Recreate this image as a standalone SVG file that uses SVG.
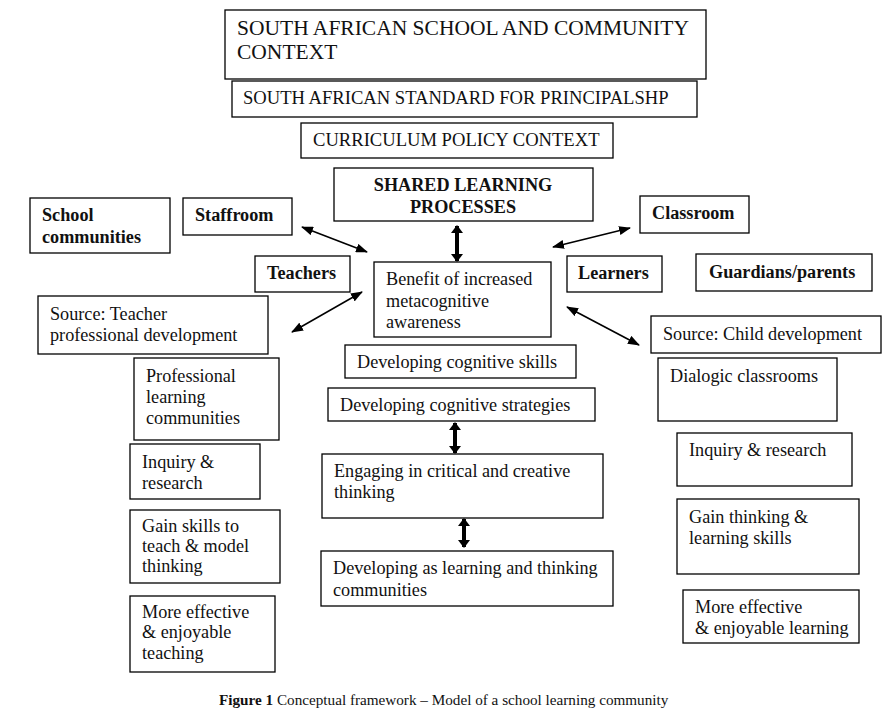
<svg xmlns="http://www.w3.org/2000/svg" width="895" height="725" viewBox="0 0 895 725">
<defs>
<style>
.box{fill:#fff;stroke:#000;stroke-width:1.3}
text{font-family:"Liberation Serif","Times New Roman",serif;fill:#111}
.r{font-size:18.2px}
.b{font-size:18.2px;font-weight:bold}
.t1{font-size:21.5px}
.t2{font-size:18.6px}
.thin{stroke:#000;stroke-width:1.6;fill:none;marker-start:url(#ah);marker-end:url(#ah)}
.thick{stroke:#000;stroke-width:4;fill:none;marker-start:url(#ahb);marker-end:url(#ahb)}
</style>
<marker id="ah" markerUnits="userSpaceOnUse" markerWidth="12" markerHeight="9" viewBox="0 0 12 9" refX="11" refY="4.5" orient="auto-start-reverse"><path d="M0,0 L12,4.5 L0,9 z" fill="#000"/></marker>
<marker id="ahb" markerUnits="userSpaceOnUse" markerWidth="8" markerHeight="12" viewBox="0 0 8 12" refX="7" refY="6" orient="auto-start-reverse"><path d="M0,0 L8,6 L0,12 z" fill="#000"/></marker>
</defs>
<rect width="895" height="725" fill="#fff"/>
<g id="context"><rect class="box" x="225" y="10" width="481" height="69"/><text class="t1" x="237" y="35">SOUTH AFRICAN SCHOOL AND COMMUNITY</text><text class="t1" x="237" y="59">CONTEXT</text></g>
<g id="standard"><rect class="box" x="232" y="81" width="465" height="36"/><text class="t2" x="243" y="104">SOUTH AFRICAN STANDARD FOR PRINCIPALSHP</text></g>
<g id="curriculum"><rect class="box" x="301" y="123" width="312" height="35"/><text class="t2" x="313" y="146">CURRICULUM POLICY CONTEXT</text></g>
<g id="shared"><rect class="box" x="334" y="168" width="259" height="53"/><text class="b" x="463" y="191" text-anchor="middle">SHARED LEARNING</text><text class="b" x="463" y="213" text-anchor="middle">PROCESSES</text></g>
<g id="school"><rect class="box" x="30" y="198" width="140" height="55"/><text class="b" x="42" y="221">School</text><text class="b" x="42" y="243">communities</text></g>
<g id="staffroom"><rect class="box" x="183" y="198" width="109" height="37"/><text class="b" x="195" y="221">Staffroom</text></g>
<g id="classroom"><rect class="box" x="640" y="196" width="109" height="37"/><text class="b" x="652" y="219">Classroom</text></g>
<g id="teachers"><rect class="box" x="255" y="256" width="95" height="36"/><text class="b" x="267" y="279">Teachers</text></g>
<g id="benefit"><rect class="box" x="374" y="262" width="177" height="75"/><text class="r" x="386" y="285">Benefit of increased</text><text class="r" x="386" y="307">metacognitive</text><text class="r" x="386" y="328">awareness</text></g>
<g id="learners"><rect class="box" x="567" y="256" width="95" height="36"/><text class="b" x="578" y="279">Learners</text></g>
<g id="guardians"><rect class="box" x="696" y="254" width="176" height="37"/><text class="b" x="709" y="278">Guardians/parents</text></g>
<g id="srcTeacher"><rect class="box" x="38" y="296" width="230" height="58"/><text class="r" x="50" y="320">Source: Teacher</text><text class="r" x="50" y="341">professional development</text></g>
<g id="srcChild"><rect class="box" x="651" y="316" width="230" height="37"/><text class="r" x="663" y="340">Source: Child development</text></g>
<g id="cogSkills"><rect class="box" x="345" y="345" width="231" height="33"/><text class="r" x="357" y="368">Developing cognitive skills</text></g>
<g id="plc"><rect class="box" x="134" y="358" width="145" height="82"/><text class="r" x="146" y="382">Professional</text><text class="r" x="146" y="403">learning</text><text class="r" x="146" y="424">communities</text></g>
<g id="dialogic"><rect class="box" x="658" y="358" width="179" height="63"/><text class="r" x="670" y="382">Dialogic classrooms</text></g>
<g id="cogStrat"><rect class="box" x="328" y="388" width="267" height="33"/><text class="r" x="340" y="411">Developing cognitive strategies</text></g>
<g id="inquiryL"><rect class="box" x="130" y="444" width="130" height="55"/><text class="r" x="142" y="468">Inquiry &amp;</text><text class="r" x="142" y="489">research</text></g>
<g id="inquiryR"><rect class="box" x="677" y="433" width="175" height="53"/><text class="r" x="689" y="456">Inquiry &amp; research</text></g>
<g id="engaging"><rect class="box" x="322" y="454" width="281" height="64"/><text class="r" x="334" y="477">Engaging in critical and creative</text><text class="r" x="334" y="498">thinking</text></g>
<g id="gainTeach"><rect class="box" x="130" y="510" width="150" height="73"/><text class="r" x="142" y="532">Gain skills to</text><text class="r" x="142" y="552">teach &amp; model</text><text class="r" x="142" y="572">thinking</text></g>
<g id="gainLearn"><rect class="box" x="677" y="499" width="182" height="75"/><text class="r" x="689" y="523">Gain thinking &amp;</text><text class="r" x="689" y="544">learning skills</text></g>
<g id="developing"><rect class="box" x="321" y="551" width="292" height="55"/><text class="r" x="333" y="574">Developing as learning and thinking</text><text class="r" x="333" y="596">communities</text></g>
<g id="moreTeach"><rect class="box" x="130" y="596" width="145" height="76"/><text class="r" x="142" y="618">More effective</text><text class="r" x="142" y="638">&amp; enjoyable</text><text class="r" x="142" y="659">teaching</text></g>
<g id="moreLearn"><rect class="box" x="683" y="590" width="176" height="53"/><text class="r" x="695" y="613">More effective</text><text class="r" x="695" y="634">&amp; enjoyable learning</text></g>
<g id="connectors">
<line class="thin" x1="302" y1="227" x2="367" y2="252"/>
<line class="thin" x1="362" y1="292" x2="292" y2="332"/>
<line class="thin" x1="553" y1="247" x2="630" y2="228"/>
<line class="thin" x1="567" y1="307" x2="639" y2="345"/>
<line class="thick" x1="457" y1="226" x2="457" y2="261"/>
<line class="thick" x1="455" y1="423" x2="455" y2="453"/>
<line class="thick" x1="464" y1="519" x2="464" y2="547"/>
</g>
<text x="219" y="705" style="font-size:15.2px"><tspan font-weight="bold">Figure 1</tspan> Conceptual framework – Model of a school learning community</text>
</svg>
